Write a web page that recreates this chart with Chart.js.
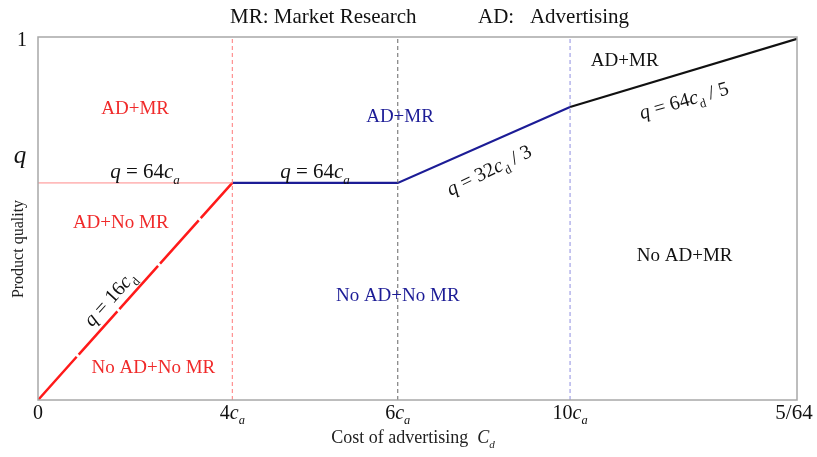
<!DOCTYPE html>
<html><head><meta charset="utf-8">
<script src="https://cdn.jsdelivr.net/npm/chart.js@4.4.0/dist/chart.umd.min.js"></script>
<style>html,body{margin:0;padding:0;background:#fff;}</style>
</head><body>
<canvas id="c" width="817" height="457"></canvas>
<script>
// ---- data (x normalised on 0..1 along the cost axis, y is product quality 0..1) ----
const xTickLabels = [['0'], ['4', 'c', 'a'], ['6', 'c', 'a'], ['10', 'c', 'a'], ['5/64']];
const xTickValues = [0, 0.256, 0.474, 0.701, 1];
const yTickLabels = ['1', 'q'];
const yTickValues = [1, 0.598];
const qLevel = 0.598;

const redX = [0, 0.256];          // q = 16 c_d
const redY = [0, 0.598];
const paleX = [0, 0.256];         // q = 64 c_a (pale)
const paleY = [0.598, 0.598];
const blueX = [0.256, 0.474, 0.701];
const blueY = [0.598, 0.598, 0.807];
const blackX = [0.701, 1];
const blackY = [0.807, 0.995];
const boundaryX = [0.256, 0.474, 0.701];

const titleParts = ['MR: Market Research', 'AD:   Advertising'];

const FAM = "'Liberation Serif','DejaVu Serif',serif";
const RED = '#f02a2a', BLUE = '#1c1c96', BLACK = '#111111';

function pts(xs, ys) { return xs.map((x, i) => ({ x: x, y: ys[i] })); }
function vline(x) { return [{ x: x, y: 0 }, { x: x, y: 1 }]; }

// math-ish label parts: [text, italic, subscript]
const EQ64a = [['q', 1], [' = 64', 0], ['c', 1], ['a', 1, 1]];
const EQ16d = [['q', 1], [' = 16', 0], ['c', 1], ['d', 0, 1]];
const EQ32d = [['q', 1], [' = 32', 0], ['c', 1], ['d', 0, 1], [' / 3', 0]];
const EQ64d = [['q', 1], [' = 64', 0], ['c', 1], ['d', 0, 1], [' / 5', 0]];

const notes = [
  { p: [['AD+MR', 0]], x: 0.128, y: 0.804, c: RED, s: 19, r: 0 },
  { p: EQ64a, x: 0.141, y: 0.631, c: BLACK, s: 21, r: 0 },
  { p: [['AD+No MR', 0]], x: 0.109, y: 0.490, c: RED, s: 19, r: 0 },
  { p: EQ16d, x: 0.094, y: 0.280, c: BLACK, s: 20, r: -48 },
  { p: [['No AD+No MR', 0]], x: 0.152, y: 0.091, c: RED, s: 19, r: 0 },
  { p: EQ64a, x: 0.365, y: 0.631, c: BLACK, s: 21, r: 0 },
  { p: [['AD+MR', 0]], x: 0.477, y: 0.782, c: BLUE, s: 19, r: 0 },
  { p: [['No AD+No MR', 0]], x: 0.474, y: 0.289, c: BLUE, s: 19, r: 0 },
  { p: EQ32d, x: 0.594, y: 0.634, c: BLACK, s: 20, r: -26 },
  { p: [['AD+MR', 0]], x: 0.773, y: 0.937, c: BLACK, s: 19, r: 0 },
  { p: EQ64d, x: 0.851, y: 0.826, c: BLACK, s: 20, r: -16 },
  { p: [['No AD+MR', 0]], x: 0.852, y: 0.399, c: BLACK, s: 19, r: 0 }
];

function partFont(part, size) {
  const sz = part[2] ? size * 0.62 : size;
  return (part[1] ? 'italic ' : '') + sz + 'px ' + FAM;
}
function measureParts(ctx, parts, size) {
  let w = 0;
  parts.forEach(pt => { ctx.font = partFont(pt, size); w += ctx.measureText(pt[0]).width; });
  return w;
}
function drawParts(ctx, parts, size, x0, y0) {
  let x = x0;
  parts.forEach(pt => {
    ctx.font = partFont(pt, size);
    ctx.fillText(pt[0], x, y0 + (pt[2] ? size * 0.28 : 0));
    x += ctx.measureText(pt[0]).width;
  });
}
function drawCentered(ctx, parts, size, color, cx, cy, rotDeg) {
  ctx.save();
  ctx.fillStyle = color;
  ctx.textBaseline = 'alphabetic';
  ctx.textAlign = 'left';
  ctx.translate(cx, cy);
  ctx.rotate(rotDeg * Math.PI / 180);
  const w = measureParts(ctx, parts, size);
  drawParts(ctx, parts, size, -w / 2, size * 0.33);
  ctx.restore();
}

const decor = {
  id: 'decor',
  afterDraw(chart) {
    const ctx = chart.ctx, xs = chart.scales.x, ys = chart.scales.y, a = chart.chartArea;
    ctx.save();
    // frame
    ctx.strokeStyle = '#a8a8a8';
    ctx.lineWidth = 1.5;
    ctx.strokeRect(a.left, a.top, a.right - a.left, a.bottom - a.top);
    // x tick labels
    xTickLabels.forEach((lab, i) => {
      const px = xs.getPixelForValue(xTickValues[i]);
      let parts;
      if (lab.length === 1) parts = [[lab[0], 0]];
      else parts = [[lab[0], 0], [lab[1], 1], [lab[2], 1, 1]];
      let cx = px;
      if (i === xTickLabels.length - 1) cx = px - 3;
      drawCentered(ctx, parts, i === xTickLabels.length - 1 ? 21 : 20, '#111', cx, a.bottom + 12, 0);
    });
    // y tick labels
    drawCentered(ctx, [[yTickLabels[0], 0]], 20, '#111', a.left - 16, ys.getPixelForValue(yTickValues[0]) + 2, 0);
    drawCentered(ctx, [[yTickLabels[1], 1]], 25, '#111', a.left - 18, ys.getPixelForValue(yTickValues[1]) - 28, 0);
    // axis titles
    drawCentered(ctx, [['Cost of advertising  ', 0], ['C', 1], ['d', 1, 1]], 18, '#222', 413, 437, 0);
    drawCentered(ctx, [['Product quality', 0]], 16, '#222', 18, 249, -90);
    // top title
    ctx.fillStyle = '#111';
    ctx.font = '21px ' + FAM;
    ctx.textBaseline = 'middle';
    ctx.textAlign = 'left';
    ctx.fillText(titleParts[0], 230, 17);
    ctx.fillText(titleParts[1], 478, 17);
    // annotations
    notes.forEach(n => {
      drawCentered(ctx, n.p, n.s, n.c, xs.getPixelForValue(n.x), ys.getPixelForValue(n.y), n.r);
    });
    ctx.restore();
  }
};

const common = { showLine: true, pointRadius: 0, pointHoverRadius: 0, fill: false, tension: 0 };

new Chart(document.getElementById('c'), {
  type: 'scatter',
  data: {
    datasets: [
      Object.assign({ data: pts(paleX, paleY), borderColor: '#ff8a8a', borderWidth: 1 }, common),
      Object.assign({ data: vline(boundaryX[0]), borderColor: '#ff7a7a', borderWidth: 1, borderDash: [4, 3] }, common),
      Object.assign({ data: vline(boundaryX[1]), borderColor: '#666666', borderWidth: 1, borderDash: [4, 3] }, common),
      Object.assign({ data: vline(boundaryX[2]), borderColor: '#8e8ee0', borderWidth: 1, borderDash: [4, 3] }, common),
      Object.assign({ data: pts(redX, redY), borderColor: '#ff1a1a', borderWidth: 2.5, borderDash: [58, 3] }, common),
      Object.assign({ data: pts(blueX, blueY), borderColor: BLUE, borderWidth: 2.2 }, common),
      Object.assign({ data: pts(blackX, blackY), borderColor: BLACK, borderWidth: 2.2 }, common)
    ]
  },
  options: {
    responsive: false,
    animation: false,
    layout: { padding: { left: 38, right: 20, top: 37, bottom: 57 } },
    plugins: { legend: { display: false }, tooltip: { enabled: false }, title: { display: false } },
    scales: {
      x: { type: 'linear', min: 0, max: 1, display: false },
      y: { type: 'linear', min: 0, max: 1, display: false }
    }
  },
  plugins: [decor]
});
</script>
</body></html>
